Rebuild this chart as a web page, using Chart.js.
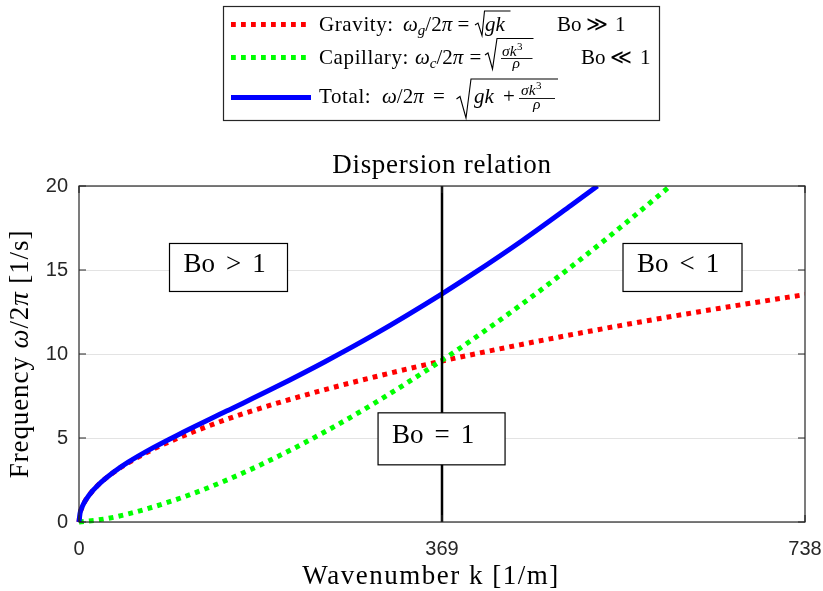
<!DOCTYPE html>
<html>
<head>
<meta charset="utf-8">
<title>Dispersion relation</title>
<script src="https://cdn.jsdelivr.net/npm/chart.js@4.4.1/dist/chart.umd.min.js"></script>
<style>
  html, body { margin: 0; padding: 0; background: #fff; }
  #wrap { position: relative; width: 823px; height: 591px; }
</style>
</head>
<body>
<div id="wrap"><canvas id="chart"></canvas></div>
<script>
// Wavenumber k [1/m] and frequency omega/2pi [1/s] of the three branches
const gravityK   = [0, 1, 2.5, 5, 10, 20, 35, 50, 75, 100, 150, 200, 250, 300, 369, 450, 550, 650, 738];
const gravityF   = [0, 0.50, 0.79, 1.12, 1.58, 2.23, 2.95, 3.52, 4.32, 4.98, 6.11, 7.05, 7.88, 8.63, 9.58, 10.57, 11.69, 12.71, 13.54];

const capillaryK = [0, 25, 50, 100, 150, 200, 250, 300, 369, 400, 450, 500, 550, 601];
const capillaryF = [0, 0.17, 0.48, 1.36, 2.49, 3.84, 5.37, 7.06, 9.63, 10.86, 12.96, 15.18, 17.52, 20.0];

const totalK     = [0, 1, 2.5, 5, 10, 20, 35, 50, 75, 100, 150, 200, 250, 300, 369, 400, 450, 500, 527];
const totalF     = [0, 0.50, 0.79, 1.12, 1.58, 2.23, 2.96, 3.56, 4.41, 5.17, 6.60, 8.03, 9.54, 11.15, 13.58, 14.75, 16.73, 18.84, 20.0];

// Bond number equals one here
const boundaryK  = 369;

const kRange     = [0, 738];
const freqRange  = [0, 20];
const xTickValues = [0, 369, 738];
const yTickValues = [0, 5, 10, 15, 20];

// Regime labels: text, wavenumber of the box's left edge, frequency of its centre
const regionText = ['Bo > 1', 'Bo < 1', 'Bo = 1'];
const regionK    = [92, 553, 304];
const regionF    = [15.15, 15.15, 4.95];

const SERIF = '"Liberation Serif", "Times New Roman", serif';
const AXIS_COLOR = '#262626';

const pts = (ks, fs) => ks.map((k, i) => ({ x: k, y: fs[i] }));

// Draw a row of text pieces (roman / italic, sizes, baseline shifts)
function drawRuns(ctx, x, y, parts, size) {
  for (const p of parts) {
    ctx.font = (p.i ? 'italic ' : '') + (p.s || size) + 'px ' + SERIF;
    if (p.x !== undefined) x = p.x;
    x += p.dx || 0;
    ctx.fillText(p.t, x, y + (p.dy || 0));
    x += ctx.measureText(p.t).width;
  }
  return x;
}
function measureRuns(ctx, parts, size) {
  let w = 0;
  for (const p of parts) {
    ctx.font = (p.i ? 'italic ' : '') + (p.s || size) + 'px ' + SERIF;
    w += (p.dx || 0) + ctx.measureText(p.t).width;
  }
  return w;
}
function polyline(ctx, pts, lw) {
  ctx.beginPath();
  ctx.moveTo(pts[0][0], pts[0][1]);
  for (let i = 1; i < pts.length; i++) ctx.lineTo(pts[i][0], pts[i][1]);
  ctx.lineWidth = lw;
  ctx.stroke();
}

const decorations = {
  id: 'decorations',
  afterDatasetsDraw(chart) {
    const { ctx, chartArea: a, scales: { x, y } } = chart;
    ctx.save();
    // axes box with inward ticks
    ctx.strokeStyle = AXIS_COLOR;
    ctx.lineWidth = 1.2;
    ctx.strokeRect(a.left, a.top, a.right - a.left, a.bottom - a.top);
    ctx.beginPath();
    for (const v of yTickValues) {
      const py = y.getPixelForValue(v);
      ctx.moveTo(a.left, py); ctx.lineTo(a.left + 7, py);
      ctx.moveTo(a.right, py); ctx.lineTo(a.right - 7, py);
    }
    for (const v of xTickValues) {
      const px = x.getPixelForValue(v);
      ctx.moveTo(px, a.bottom); ctx.lineTo(px, a.bottom - 7);
      ctx.moveTo(px, a.top); ctx.lineTo(px, a.top + 7);
    }
    ctx.stroke();

    // regime text boxes
    const boxW = [118, 119, 127];
    const boxH = [48, 48, 52];
    ctx.textBaseline = 'alphabetic';
    regionText.forEach((txt, i) => {
      const [a1, rel, b1] = txt.split(' ');
      const parts = [{ t: a1 }, { t: rel, dx: 11 }, { t: b1, dx: 11 }];
      const left = x.getPixelForValue(regionK[i]);
      const cy = y.getPixelForValue(regionF[i]);
      const w = boxW[i], h = boxH[i];
      ctx.fillStyle = '#fff';
      ctx.fillRect(left, cy - h / 2, w, h);
      ctx.strokeStyle = '#000';
      ctx.lineWidth = 1.2;
      ctx.strokeRect(left, cy - h / 2, w, h);
      ctx.fillStyle = '#000';
      drawRuns(ctx, left + 14, cy + 4.6, parts, 27);
    });
    ctx.restore();
  },
  afterDraw(chart) {
    const { ctx, chartArea: a } = chart;
    ctx.save();
    ctx.fillStyle = '#000';
    ctx.textBaseline = 'alphabetic';

    // title
    ctx.letterSpacing = '0.7px';
    ctx.font = '27px ' + SERIF;
    ctx.textAlign = 'center';
    ctx.fillText('Dispersion relation', (a.left + a.right) / 2, 172.5);

    // x axis label
    ctx.letterSpacing = '1.5px';
    ctx.fillText('Wavenumber k [1/m]', 431, 584);
    ctx.textAlign = 'left';

    // y axis label (rotated)
    ctx.letterSpacing = '0.9px';
    const yl = [{ t: 'Frequency ' }, { t: '\u03c9', i: true }, { t: '/2' }, { t: '\u03c0', i: true }, { t: ' [1/s]' }];
    const ylw = measureRuns(ctx, yl, 27);
    ctx.save();
    ctx.translate(28, (a.top + a.bottom) / 2);
    ctx.rotate(-Math.PI / 2);
    drawRuns(ctx, -ylw / 2, 0, yl, 27);
    ctx.restore();
    ctx.letterSpacing = '0px';

    // legend box
    ctx.fillStyle = '#fff';
    ctx.fillRect(223.5, 6.5, 436, 114);
    ctx.strokeStyle = AXIS_COLOR;
    ctx.lineWidth = 1.2;
    ctx.strokeRect(223.5, 6.5, 436, 114);

    // legend samples
    const sample = (yy, color, dashed) => {
      ctx.beginPath();
      ctx.setLineDash(dashed ? [4.8, 5.2] : []);
      ctx.lineCap = 'butt';
      ctx.strokeStyle = color;
      ctx.lineWidth = 5;
      ctx.moveTo(231, yy); ctx.lineTo(311, yy);
      ctx.stroke();
    };
    sample(24.5, '#ff0000', true);
    sample(57.5, '#00ff00', true);
    sample(97.5, '#0000ff', false);
    ctx.setLineDash([]);

    ctx.fillStyle = '#000';
    ctx.strokeStyle = '#000';
    ctx.lineJoin = 'miter';
    const S = 21;
    // row 1: gravity
    ctx.letterSpacing = '0.6px';
    drawRuns(ctx, 319, 31, [{ t: 'Gravity:' }], S);
    ctx.letterSpacing = '0px';
    drawRuns(ctx, 403, 31, [
      { t: '\u03c9', i: true }, { t: 'g', i: true, s: 15, dy: 4 }, { t: '/2' }, { t: '\u03c0', i: true },
      { t: '=', x: 457.5 }, { t: 'gk', i: true, x: 485 },
      { t: 'Bo', x: 557 }, { t: '\u226B', x: 586 }, { t: '1', x: 615 }
    ], S);
    polyline(ctx, [[475, 25], [478, 23], [482, 35.5], [484.5, 11], [510.5, 11]], 1.1);

    // row 2: capillary
    ctx.letterSpacing = '0.6px';
    drawRuns(ctx, 319, 64, [{ t: 'Capillary:' }], S);
    ctx.letterSpacing = '0px';
    drawRuns(ctx, 415, 64, [
      { t: '\u03c9', i: true }, { t: 'c', i: true, s: 15, dy: 4 }, { t: '/2' }, { t: '\u03c0', i: true },
      { t: '=', x: 469.5 },
      { t: 'Bo', x: 581 }, { t: '\u226A', x: 610 }, { t: '1', x: 640 }
    ], S);
    polyline(ctx, [[485, 55], [488, 53], [492.5, 69], [497, 38.5], [533.5, 38.5]], 1.1);
    drawRuns(ctx, 502, 55.5, [{ t: '\u03c3k', i: true, s: 15.5 }, { t: '3', s: 11, dy: -6, dx: 0.5 }], S);
    polyline(ctx, [[501, 58.5], [532.5, 58.5]], 0.9);
    drawRuns(ctx, 512.5, 68, [{ t: '\u03c1', i: true, s: 15.5 }], S);

    // row 3: total
    ctx.letterSpacing = '0.6px';
    drawRuns(ctx, 319, 103, [{ t: 'Total:' }], S);
    ctx.letterSpacing = '0px';
    drawRuns(ctx, 382, 103, [
      { t: '\u03c9', i: true }, { t: '/2' }, { t: '\u03c0', i: true },
      { t: '=', x: 433 }, { t: 'gk', i: true, x: 474 }, { t: '+', x: 503 }
    ], S);
    polyline(ctx, [[456.5, 99], [460, 96.5], [466, 118], [471, 79], [558, 79]], 1.1);
    drawRuns(ctx, 521, 95, [{ t: '\u03c3k', i: true, s: 15.5 }, { t: '3', s: 11, dy: -6, dx: 0.5 }], S);
    polyline(ctx, [[519, 98.5], [555, 98.5]], 0.9);
    drawRuns(ctx, 533, 108.5, [{ t: '\u03c1', i: true, s: 15.5 }], S);

    ctx.restore();
  }
};

const dottedLine = {
  borderWidth: 5,
  borderDash: [4.8, 5.2],
  borderCapStyle: 'butt',
  pointRadius: 0,
  fill: false,
  cubicInterpolationMode: 'monotone',
  clip: { left: 4, top: 0, right: 0, bottom: 4 }
};

new Chart(document.getElementById('chart'), {
  type: 'line',
  data: {
    datasets: [
      {
        label: 'Bo = 1',
        data: [{ x: boundaryK, y: freqRange[0] }, { x: boundaryK, y: freqRange[1] }],
        borderColor: '#000000', borderWidth: 2.5, pointRadius: 0, order: 0,
        clip: 0
      },
      Object.assign({ label: 'Total', data: pts(totalK, totalF), borderColor: '#0000ff', order: 1 },
        dottedLine, { borderDash: [] }),
      Object.assign({ label: 'Capillary', data: pts(capillaryK, capillaryF), borderColor: '#00ff00', order: 2 }, dottedLine),
      Object.assign({ label: 'Gravity', data: pts(gravityK, gravityF), borderColor: '#ff0000', order: 3 }, dottedLine)
    ]
  },
  options: {
    responsive: true,
    maintainAspectRatio: false,
    animation: false,
    devicePixelRatio: 1,
    events: [],
    layout: { padding: { top: 186, right: 18, left: 0, bottom: 0 } },
    plugins: { legend: { display: false }, tooltip: { enabled: false }, title: { display: false } },
    scales: {
      x: {
        type: 'linear',
        min: kRange[0], max: kRange[1],
        afterFit: s => { s.height = 69; s.paddingLeft = 0; s.paddingRight = 0; },
        afterBuildTicks: s => { s.ticks = xTickValues.map(v => ({ value: v })); },
        grid: { display: false, drawTicks: false },
        border: { display: false },
        ticks: {
          font: { family: 'Liberation Sans', size: 20 }, color: AXIS_COLOR,
          padding: 15, maxRotation: 0, autoSkip: false,
          callback: v => String(v)
        }
      },
      y: {
        type: 'linear',
        min: freqRange[0], max: freqRange[1],
        afterFit: s => { s.width = 79; s.paddingTop = 0; s.paddingBottom = 0; },
        afterBuildTicks: s => { s.ticks = yTickValues.map(v => ({ value: v })); },
        grid: { color: '#e3e3e3', lineWidth: 1, drawTicks: false },
        border: { display: false },
        ticks: {
          font: { family: 'Liberation Sans', size: 20 }, color: AXIS_COLOR,
          padding: 11, autoSkip: false,
          callback: v => String(v)
        }
      }
    }
  },
  plugins: [decorations]
});
</script>
</body>
</html>
